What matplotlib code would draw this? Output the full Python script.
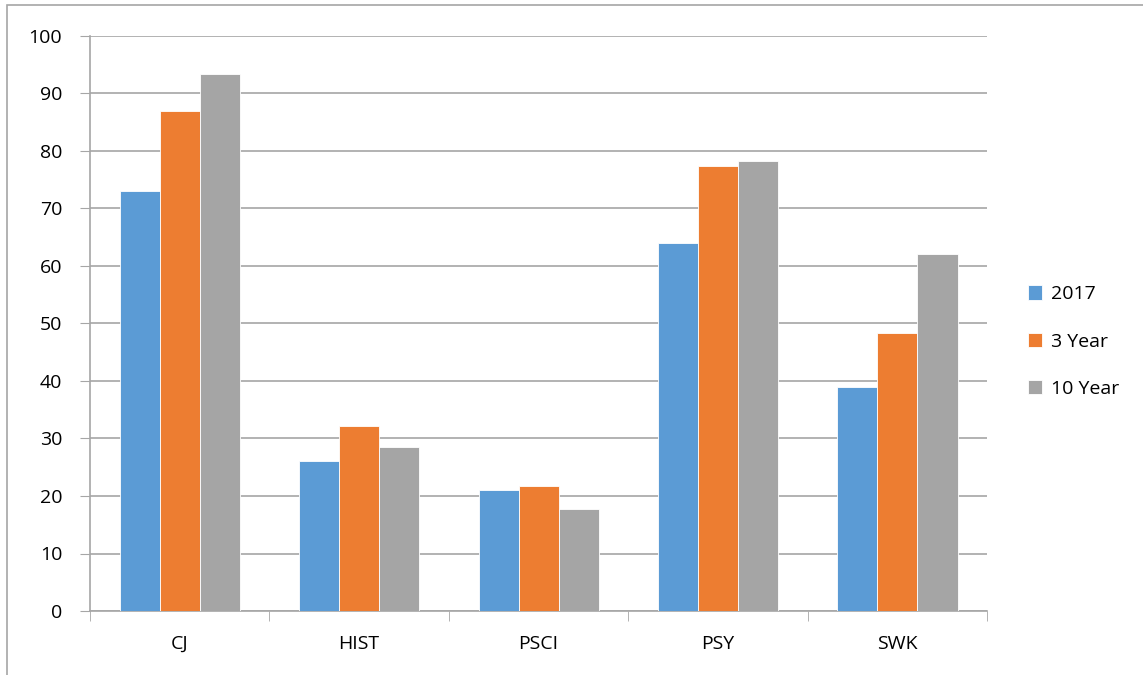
import numpy as np
import matplotlib
matplotlib.use('Agg')
import matplotlib.pyplot as plt
from matplotlib.patches import Rectangle

categories = ['CJ', 'HIST', 'PSCI', 'PSY', 'SWK']
series_names = ['2017', '3 Year', '10 Year']
vals_2017 = [73, 26, 21, 64, 39]
vals_3yr = [87, 32.2, 21.7, 77.3, 48.3]
vals_10yr = [93.3, 28.6, 17.8, 78.2, 62]
colors = ['#5B9BD5', '#ED7D31', '#A5A5A5']

plt.rcParams['font.family'] = ['Open Sans', 'DejaVu Sans']

fig = plt.figure(figsize=(11.43, 6.75), dpi=100)
ax = fig.add_axes([0.0787, 0.0948, 0.785, 0.852])

x = np.arange(len(categories))
w = 0.223
for i, (vals, name) in enumerate(zip([vals_2017, vals_3yr, vals_10yr], series_names)):
    ax.bar(x + (i - 1) * w, vals, w, color=colors[i], label=name,
           edgecolor='white', linewidth=0.6, zorder=3)

ax.set_xlim(-0.5, len(categories) - 0.5)
ax.set_ylim(0, 100)
ax.set_yticks(range(0, 101, 10))
ax.yaxis.grid(True, color='#A6A6A6', linewidth=1.2, zorder=0)
ax.set_xticks(x)
ax.set_xticklabels(categories)
ax.set_xticks(np.arange(-0.5, len(categories), 1), minor=True)
ax.tick_params(axis='x', which='major', length=0, pad=17, labelsize=14)
ax.tick_params(axis='x', which='minor', length=7, color='#A6A6A6')
ax.tick_params(axis='y', length=7, color='#A6A6A6', labelsize=14, pad=13)
for s in ['top', 'right']:
    ax.spines[s].set_visible(False)
ax.spines['left'].set_color('#A6A6A6')
ax.spines['bottom'].set_color('#A6A6A6')
ax.spines['left'].set_linewidth(1.2)
ax.spines['bottom'].set_linewidth(1.2)

fig.legend(loc='center left', bbox_to_anchor=(0.884, 0.494), frameon=False,
           fontsize=14, handlelength=0.75, handleheight=0.75, labelspacing=1.5,
           handletextpad=0.45)

fig.patches.append(Rectangle((0.006, -0.1), 1.2, 1.092, transform=fig.transFigure,
                             fill=False, edgecolor='#A6A6A6', linewidth=1.2))

fig.savefig('out.png', dpi=100)
